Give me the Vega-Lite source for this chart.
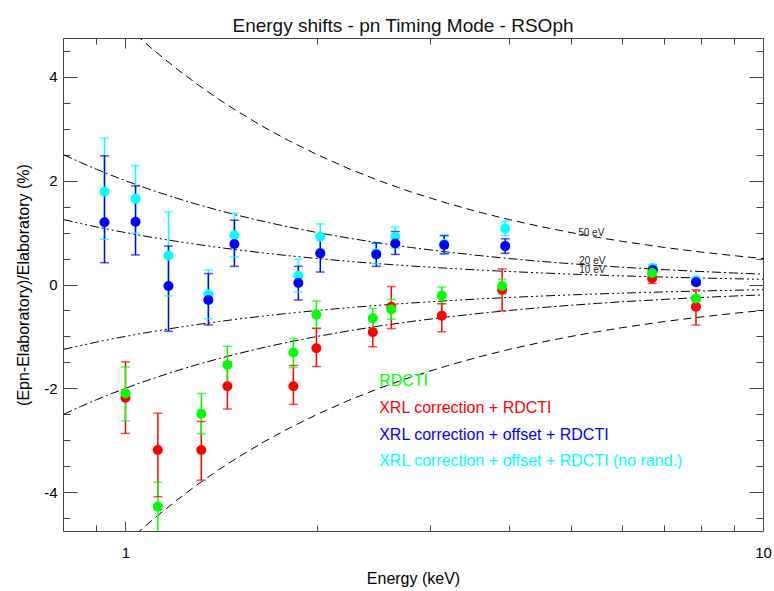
{
  "$schema": "https://vega.github.io/schema/vega-lite/v6.json",
  "width": 700,
  "height": 493,
  "autosize": {"type": "none"},
  "padding": {"left": 63, "top": 38, "right": 11, "bottom": 60},
  "background": "white",
  "config": {"view": {"stroke": null}, "font": "Liberation Sans", "axis": {"grid": false, "domainColor": "#444", "tickColor": "#444", "labelColor": "#000", "labelFont": "Liberation Sans", "titleFont": "Liberation Sans", "labelFontSize": 15, "titleFontSize": 16, "titleFontWeight": "normal", "titleColor": "#000", "labelOverlap": false, "labelFlush": false}},
  "title": {"text": "Energy shifts - pn Timing Mode - RSOph", "fontSize": 19, "fontWeight": "normal", "font": "Liberation Sans", "color": "#111", "baseline": "alphabetic", "offset": -13, "dx": -10},
  "datasets": {
    "pts": [
      {"series": "XRL correction + offset + RDCTI (no rand.)", "E": 0.927, "y": 1.79, "lo": 0.87, "hi": 2.82},
      {"series": "XRL correction + offset + RDCTI (no rand.)", "E": 1.037, "y": 1.65, "lo": 0.99, "hi": 2.29},
      {"series": "XRL correction + offset + RDCTI (no rand.)", "E": 1.168, "y": 0.56, "lo": -0.22, "hi": 1.40},
      {"series": "XRL correction + offset + RDCTI (no rand.)", "E": 1.349, "y": -0.19, "lo": -0.66, "hi": 0.28},
      {"series": "XRL correction + offset + RDCTI (no rand.)", "E": 1.482, "y": 0.95, "lo": 0.53, "hi": 1.38},
      {"series": "XRL correction + offset + RDCTI (no rand.)", "E": 1.867, "y": 0.17, "lo": -0.14, "hi": 0.49},
      {"series": "XRL correction + offset + RDCTI (no rand.)", "E": 2.021, "y": 0.92, "lo": 0.68, "hi": 1.17},
      {"series": "XRL correction + offset + RDCTI (no rand.)", "E": 2.474, "y": 0.60, "lo": 0.40, "hi": 0.80},
      {"series": "XRL correction + offset + RDCTI (no rand.)", "E": 2.650, "y": 0.92, "lo": 0.70, "hi": 1.11},
      {"series": "XRL correction + offset + RDCTI (no rand.)", "E": 3.162, "y": 0.78, "lo": 0.60, "hi": 0.96},
      {"series": "XRL correction + offset + RDCTI (no rand.)", "E": 3.941, "y": 1.08, "lo": 0.94, "hi": 1.22},
      {"series": "XRL correction + offset + RDCTI (no rand.)", "E": 6.715, "y": 0.32, "lo": 0.26, "hi": 0.38},
      {"series": "XRL correction + offset + RDCTI (no rand.)", "E": 7.852, "y": 0.08, "lo": 0.02, "hi": 0.14},
      {"series": "XRL correction + offset + RDCTI", "E": 0.927, "y": 1.20, "lo": 0.42, "hi": 2.48},
      {"series": "XRL correction + offset + RDCTI", "E": 1.037, "y": 1.21, "lo": 0.57, "hi": 1.90},
      {"series": "XRL correction + offset + RDCTI", "E": 1.168, "y": -0.03, "lo": -0.90, "hi": 0.74},
      {"series": "XRL correction + offset + RDCTI", "E": 1.349, "y": -0.30, "lo": -0.78, "hi": 0.21},
      {"series": "XRL correction + offset + RDCTI", "E": 1.482, "y": 0.78, "lo": 0.35, "hi": 1.24},
      {"series": "XRL correction + offset + RDCTI", "E": 1.867, "y": 0.03, "lo": -0.30, "hi": 0.35},
      {"series": "XRL correction + offset + RDCTI", "E": 2.021, "y": 0.60, "lo": 0.24, "hi": 0.96},
      {"series": "XRL correction + offset + RDCTI", "E": 2.474, "y": 0.58, "lo": 0.35, "hi": 0.80},
      {"series": "XRL correction + offset + RDCTI", "E": 2.650, "y": 0.79, "lo": 0.58, "hi": 1.02},
      {"series": "XRL correction + offset + RDCTI", "E": 3.162, "y": 0.76, "lo": 0.59, "hi": 0.94},
      {"series": "XRL correction + offset + RDCTI", "E": 3.941, "y": 0.74, "lo": 0.60, "hi": 0.88},
      {"series": "XRL correction + offset + RDCTI", "E": 6.715, "y": 0.28, "lo": 0.23, "hi": 0.33},
      {"series": "XRL correction + offset + RDCTI", "E": 7.852, "y": 0.045, "lo": -0.005, "hi": 0.095},
      {"series": "XRL correction + RDCTI", "E": 1.0, "y": -2.18, "lo": -2.87, "hi": -1.49},
      {"series": "XRL correction + RDCTI", "E": 1.124, "y": -3.19, "lo": -4.09, "hi": -2.48},
      {"series": "XRL correction + RDCTI", "E": 1.315, "y": -3.19, "lo": -3.77, "hi": -2.64},
      {"series": "XRL correction + RDCTI", "E": 1.445, "y": -1.96, "lo": -2.40, "hi": -1.49},
      {"series": "XRL correction + RDCTI", "E": 1.834, "y": -1.96, "lo": -2.31, "hi": -1.56},
      {"series": "XRL correction + RDCTI", "E": 1.993, "y": -1.23, "lo": -1.58, "hi": -0.85},
      {"series": "XRL correction + RDCTI", "E": 2.443, "y": -0.92, "lo": -1.20, "hi": -0.64},
      {"series": "XRL correction + RDCTI", "E": 2.612, "y": -0.43, "lo": -0.85, "hi": -0.04},
      {"series": "XRL correction + RDCTI", "E": 3.134, "y": -0.60, "lo": -0.91, "hi": -0.37},
      {"series": "XRL correction + RDCTI", "E": 3.898, "y": -0.10, "lo": -0.51, "hi": 0.30},
      {"series": "XRL correction + RDCTI", "E": 6.7, "y": 0.115, "lo": 0.02, "hi": 0.21},
      {"series": "XRL correction + RDCTI", "E": 7.85, "y": -0.43, "lo": -0.78, "hi": -0.10},
      {"series": "RDCTI", "E": 1.0, "y": -2.10, "lo": -2.63, "hi": -1.59},
      {"series": "RDCTI", "E": 1.124, "y": -4.28, "lo": -5.3, "hi": -3.81},
      {"series": "RDCTI", "E": 1.315, "y": -2.49, "lo": -2.88, "hi": -2.10},
      {"series": "RDCTI", "E": 1.445, "y": -1.55, "lo": -1.91, "hi": -1.19},
      {"series": "RDCTI", "E": 1.834, "y": -1.31, "lo": -1.60, "hi": -1.04},
      {"series": "RDCTI", "E": 1.993, "y": -0.58, "lo": -0.84, "hi": -0.32},
      {"series": "RDCTI", "E": 2.443, "y": -0.65, "lo": -0.85, "hi": -0.46},
      {"series": "RDCTI", "E": 2.612, "y": -0.48, "lo": -0.67, "hi": -0.29},
      {"series": "RDCTI", "E": 3.134, "y": -0.21, "lo": -0.37, "hi": -0.05},
      {"series": "RDCTI", "E": 3.898, "y": -0.03, "lo": -0.18, "hi": 0.10},
      {"series": "RDCTI", "E": 6.7, "y": 0.22, "lo": 0.17, "hi": 0.27},
      {"series": "RDCTI", "E": 7.85, "y": -0.27, "lo": -0.33, "hi": -0.21}
    ],
    "curves": [
      {"E": 0.8, "p50": 6.25, "m50": -6.25, "p20": 2.5, "m20": -2.5, "p10": 1.25, "m10": -1.25},
      {"E": 0.85, "p50": 5.882, "m50": -5.882, "p20": 2.353, "m20": -2.353, "p10": 1.1765, "m10": -1.1765},
      {"E": 0.9, "p50": 5.556, "m50": -5.556, "p20": 2.222, "m20": -2.222, "p10": 1.1111, "m10": -1.1111},
      {"E": 0.95, "p50": 5.263, "m50": -5.263, "p20": 2.105, "m20": -2.105, "p10": 1.0526, "m10": -1.0526},
      {"E": 1.0, "p50": 5.0, "m50": -5.0, "p20": 2.0, "m20": -2.0, "p10": 1.0, "m10": -1.0},
      {"E": 1.05, "p50": 4.762, "m50": -4.762, "p20": 1.905, "m20": -1.905, "p10": 0.9524, "m10": -0.9524},
      {"E": 1.1, "p50": 4.545, "m50": -4.545, "p20": 1.818, "m20": -1.818, "p10": 0.9091, "m10": -0.9091},
      {"E": 1.2, "p50": 4.167, "m50": -4.167, "p20": 1.667, "m20": -1.667, "p10": 0.8333, "m10": -0.8333},
      {"E": 1.3, "p50": 3.846, "m50": -3.846, "p20": 1.538, "m20": -1.538, "p10": 0.7692, "m10": -0.7692},
      {"E": 1.4, "p50": 3.571, "m50": -3.571, "p20": 1.429, "m20": -1.429, "p10": 0.7143, "m10": -0.7143},
      {"E": 1.5, "p50": 3.333, "m50": -3.333, "p20": 1.333, "m20": -1.333, "p10": 0.6667, "m10": -0.6667},
      {"E": 1.65, "p50": 3.030, "m50": -3.030, "p20": 1.212, "m20": -1.212, "p10": 0.6061, "m10": -0.6061},
      {"E": 1.8, "p50": 2.778, "m50": -2.778, "p20": 1.111, "m20": -1.111, "p10": 0.5556, "m10": -0.5556},
      {"E": 2.0, "p50": 2.5, "m50": -2.5, "p20": 1.0, "m20": -1.0, "p10": 0.5, "m10": -0.5},
      {"E": 2.25, "p50": 2.222, "m50": -2.222, "p20": 0.889, "m20": -0.889, "p10": 0.4444, "m10": -0.4444},
      {"E": 2.5, "p50": 2.0, "m50": -2.0, "p20": 0.8, "m20": -0.8, "p10": 0.4, "m10": -0.4},
      {"E": 2.8, "p50": 1.786, "m50": -1.786, "p20": 0.714, "m20": -0.714, "p10": 0.3571, "m10": -0.3571},
      {"E": 3.2, "p50": 1.563, "m50": -1.563, "p20": 0.625, "m20": -0.625, "p10": 0.3125, "m10": -0.3125},
      {"E": 3.6, "p50": 1.389, "m50": -1.389, "p20": 0.556, "m20": -0.556, "p10": 0.2778, "m10": -0.2778},
      {"E": 4.0, "p50": 1.25, "m50": -1.25, "p20": 0.5, "m20": -0.5, "p10": 0.25, "m10": -0.25},
      {"E": 4.5, "p50": 1.111, "m50": -1.111, "p20": 0.444, "m20": -0.444, "p10": 0.2222, "m10": -0.2222},
      {"E": 5.0, "p50": 1.0, "m50": -1.0, "p20": 0.4, "m20": -0.4, "p10": 0.2, "m10": -0.2},
      {"E": 5.5, "p50": 0.909, "m50": -0.909, "p20": 0.364, "m20": -0.364, "p10": 0.1818, "m10": -0.1818},
      {"E": 6.0, "p50": 0.833, "m50": -0.833, "p20": 0.333, "m20": -0.333, "p10": 0.1667, "m10": -0.1667},
      {"E": 7.0, "p50": 0.714, "m50": -0.714, "p20": 0.286, "m20": -0.286, "p10": 0.1429, "m10": -0.1429},
      {"E": 8.0, "p50": 0.625, "m50": -0.625, "p20": 0.25, "m20": -0.25, "p10": 0.125, "m10": -0.125},
      {"E": 9.0, "p50": 0.556, "m50": -0.556, "p20": 0.222, "m20": -0.222, "p10": 0.1111, "m10": -0.1111},
      {"E": 10.0, "p50": 0.5, "m50": -0.5, "p20": 0.2, "m20": -0.2, "p10": 0.1, "m10": -0.1}
    ],
    "curvelabels": [
      {"E": 5.13, "y": 1.0, "label": "50 eV"},
      {"E": 5.15, "y": 0.46, "label": "20 eV"},
      {"E": 5.15, "y": 0.27, "label": "10 eV"}
    ],
    "legend": [
      {"E": 2.5, "y": -1.85, "series": "RDCTI"},
      {"E": 2.5, "y": -2.38, "series": "XRL correction + RDCTI"},
      {"E": 2.5, "y": -2.9, "series": "XRL correction + offset + RDCTI"},
      {"E": 2.5, "y": -3.4, "series": "XRL correction + offset + RDCTI (no rand.)"}
    ]
  },
  "layer": [
    {
      "layer": [
        {
          "data": {"name": "curves"},
          "mark": {"type": "line", "color": "black", "strokeWidth": 1, "strokeDash": [8, 5], "clip": true},
          "transform": [{"fold": ["p50", "m50"], "as": ["key", "val"]}],
          "encoding": {
            "x": {"field": "E", "type": "quantitative", "scale": {"type": "log", "domain": [0.798, 10], "nice": false},
              "axis": {"orient": "bottom", "values": [1, 10], "format": "d", "title": "Energy (keV)", "tickSize": -10, "labelPadding": 24, "titlePadding": 10}},
            "y": {"field": "val", "type": "quantitative", "scale": {"domain": [-4.75, 4.75], "nice": false, "zero": false},
              "axis": {"orient": "left", "values": [-4, -2, 0, 2, 4], "labelExpr": "datum.value < 0 ? '-' + (-datum.value) : '' + datum.value", "title": "(Epn-Elaboratory)/Elaboratory (%)", "tickSize": -14, "labelPadding": 20, "titlePadding": 12}},
            "detail": {"field": "key"}
          }
        },
        {
          "data": {"name": "curves"},
          "mark": {"type": "line", "color": "black", "strokeWidth": 1, "strokeDash": [9, 3, 2, 3], "clip": true},
          "transform": [{"fold": ["p20", "m20"], "as": ["key", "val"]}],
          "encoding": {
            "x": {"field": "E", "type": "quantitative"},
            "y": {"field": "val", "type": "quantitative"},
            "detail": {"field": "key"}
          }
        },
        {
          "data": {"name": "curves"},
          "mark": {"type": "line", "color": "black", "strokeWidth": 1, "strokeDash": [9, 3, 2, 3, 2, 3, 2, 3], "clip": true},
          "transform": [{"fold": ["p10", "m10"], "as": ["key", "val"]}],
          "encoding": {
            "x": {"field": "E", "type": "quantitative"},
            "y": {"field": "val", "type": "quantitative"},
            "detail": {"field": "key"}
          }
        },
        {
          "mark": {"type": "rule", "color": "#333", "strokeWidth": 1, "strokeDash": [1.5, 2.5]},
          "encoding": {"y": {"datum": 0, "type": "quantitative"}}
        },
        {
          "data": {"name": "curvelabels"},
          "mark": {"type": "text", "align": "left", "baseline": "middle", "fontSize": 10, "font": "Liberation Sans", "color": "#222"},
          "encoding": {
            "x": {"field": "E", "type": "quantitative"},
            "y": {"field": "y", "type": "quantitative"},
            "text": {"field": "label"}
          }
        },
        {
          "data": {"name": "pts"},
          "mark": {"type": "rule", "strokeWidth": 1.5, "clip": true},
          "encoding": {
            "x": {"field": "E", "type": "quantitative"},
            "y": {"field": "lo", "type": "quantitative"},
            "y2": {"field": "hi"},
            "color": {"field": "series", "type": "nominal", "legend": null, "scale": {"domain": ["RDCTI", "XRL correction + RDCTI", "XRL correction + offset + RDCTI", "XRL correction + offset + RDCTI (no rand.)"], "range": ["#00ff00", "#ff0000", "#0000ff", "#00ffff"]}}
          }
        },
        {
          "data": {"name": "pts"},
          "mark": {"type": "tick", "orient": "horizontal", "size": 9, "thickness": 1.5, "clip": true},
          "encoding": {
            "x": {"field": "E", "type": "quantitative"},
            "y": {"field": "lo", "type": "quantitative"},
            "color": {"field": "series", "type": "nominal", "legend": null}
          }
        },
        {
          "data": {"name": "pts"},
          "mark": {"type": "tick", "orient": "horizontal", "size": 9, "thickness": 1.5, "clip": true},
          "encoding": {
            "x": {"field": "E", "type": "quantitative"},
            "y": {"field": "hi", "type": "quantitative"},
            "color": {"field": "series", "type": "nominal", "legend": null}
          }
        },
        {
          "data": {"name": "pts"},
          "mark": {"type": "circle", "size": 100, "opacity": 1, "clip": true},
          "encoding": {
            "x": {"field": "E", "type": "quantitative"},
            "y": {"field": "y", "type": "quantitative"},
            "color": {"field": "series", "type": "nominal", "legend": null}
          }
        },
        {
          "data": {"name": "legend"},
          "mark": {"type": "text", "align": "left", "baseline": "middle", "fontSize": 16, "font": "Liberation Sans"},
          "encoding": {
            "x": {"field": "E", "type": "quantitative"},
            "y": {"field": "y", "type": "quantitative"},
            "text": {"field": "series"},
            "color": {"field": "series", "type": "nominal", "legend": null}
          }
        }
      ]
    },
    {
      "data": {"name": "curves"},
      "mark": {"type": "point", "opacity": 0},
      "encoding": {
        "x": {"field": "E", "type": "quantitative", "scale": {"type": "log", "domain": [0.798, 10], "nice": false},
          "axis": {"orient": "bottom", "values": [0.9, 2, 3, 4, 5, 6, 7, 8, 9], "labels": false, "title": null, "tickSize": -6, "domain": false}},
        "y": {"field": "p10", "type": "quantitative", "scale": {"domain": [-4.75, 4.75], "nice": false, "zero": false},
          "axis": {"orient": "left", "values": [-4.5, -3.5, -3, -2.5, -1.5, -1, -0.5, 0.5, 1, 1.5, 2.5, 3, 3.5, 4.5], "labels": false, "title": null, "tickSize": -7, "domain": false}}
      }
    },
    {
      "data": {"name": "curves"},
      "mark": {"type": "point", "opacity": 0},
      "encoding": {
        "x": {"field": "E", "type": "quantitative", "scale": {"type": "log", "domain": [0.798, 10], "nice": false},
          "axis": {"orient": "top", "values": [1, 10], "labels": false, "title": null, "tickSize": -10}},
        "y": {"field": "p10", "type": "quantitative", "scale": {"domain": [-4.75, 4.75], "nice": false, "zero": false},
          "axis": {"orient": "right", "values": [-4, -2, 0, 2, 4], "labels": false, "title": null, "tickSize": -14}}
      }
    },
    {
      "data": {"name": "curves"},
      "mark": {"type": "point", "opacity": 0},
      "encoding": {
        "x": {"field": "E", "type": "quantitative", "scale": {"type": "log", "domain": [0.798, 10], "nice": false},
          "axis": {"orient": "top", "values": [0.9, 2, 3, 4, 5, 6, 7, 8, 9], "labels": false, "title": null, "tickSize": -6, "domain": false}},
        "y": {"field": "p10", "type": "quantitative", "scale": {"domain": [-4.75, 4.75], "nice": false, "zero": false},
          "axis": {"orient": "right", "values": [-4.5, -3.5, -3, -2.5, -1.5, -1, -0.5, 0.5, 1, 1.5, 2.5, 3, 3.5, 4.5], "labels": false, "title": null, "tickSize": -7, "domain": false}}
      }
    }
  ],
  "resolve": {"axis": {"x": "independent", "y": "independent"}}
}
